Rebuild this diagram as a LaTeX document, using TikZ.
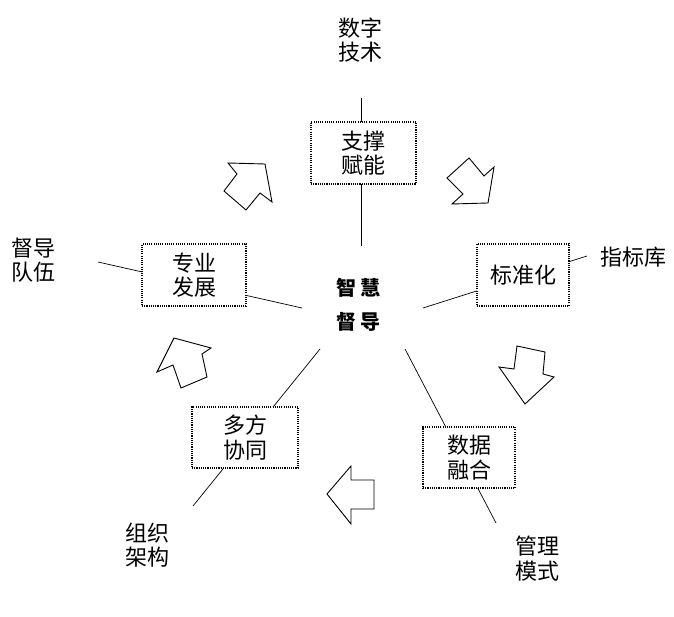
\documentclass[tikz,border=0pt]{standalone}
\usepackage{fontspec}
\newfontfamily\cjk{Noto Sans CJK SC}
\begin{document}
\begin{tikzpicture}[x=1pt,y=-1pt,
  box/.style={draw, line width=1.1pt, dash pattern=on 1.1pt off 1.1pt, fill=white,
    inner sep=0pt, align=center, font=\cjk\fontsize{22}{24.5}\selectfont},
  lbl/.style={inner sep=0pt, align=center, font=\cjk\fontsize{22}{24.5}\selectfont},
  hub/.style={inner sep=0pt, font=\cjk\bfseries\fontsize{20}{20}\selectfont},
  ray/.style={line width=0.7pt},
  blk/.style={line width=0.9pt, line join=miter, fill=white}]
\useasboundingbox (0,0) rectangle (674,617);

% rays (free ends as named coordinates)
\coordinate (r1a) at (361,98);  \coordinate (r1b) at (361,246);
\coordinate (r2a) at (98,262);  \coordinate (r2b) at (302,308);
\coordinate (r3a) at (423,308); \coordinate (r3b) at (587,256);
\coordinate (r4a) at (320,349); \coordinate (r4b) at (193,506);
\coordinate (r5a) at (405,349); \coordinate (r5b) at (496,523);
\draw[ray] (r1a) -- (r1b);
\draw[ray] (r2a) -- (r2b);
\draw[ray] (r3a) -- (r3b);
\draw[ray] (r4a) -- (r4b);
\draw[ray] (r5a) -- (r5b);

% boxes
\node[box, minimum width=105pt, minimum height=62pt] (zc) at (363.5,153) {支撑\\赋能};
\node[box, minimum width=104pt, minimum height=62pt] (zy) at (194,275) {专业\\发展};
\node[box, minimum width=92pt, minimum height=62pt] (bz) at (523,275) {标准化};
\node[box, minimum width=106pt, minimum height=61pt] (df) at (245,437.5) {多方\\协同};
\node[box, minimum width=92pt, minimum height=61pt] (sj) at (469,457.5) {数据\\融合};

% centre
\node[hub] (h1) at (358,288) {智\hspace{4pt}慧};
\node[hub] (h2) at (358,322) {督\hspace{4pt}导};

% outer labels
\node[lbl] (szjs) at (360,40) {数字\\技术};
\node[lbl] (ddwd) at (33,260) {督导\\队伍};
\node[lbl] (zbk) at (633,257) {指标库};
\node[lbl] (zzjg) at (147,545) {组织\\架构};
\node[lbl] (glms) at (537,558.5) {管理\\模式};

% block arrows
\draw[blk] (228,163) -- (265,164) -- (272,202) -- (260,193) -- (246,210) -- (224,191) -- (237,174) -- cycle;
\draw[blk] (469,158) -- (447,178) -- (463,194) -- (452,204) -- (488,203) -- (494,167) -- (484,176) -- cycle;
\draw[blk] (517,346) -- (545,352) -- (543,374) -- (554,377) -- (525,404) -- (499,367) -- (514,369) -- cycle;
\draw[blk] (327,494) -- (351,466) -- (351,480) -- (374,480) -- (374,509) -- (351,509) -- (351,524) -- cycle;
\draw[blk] (174,338) -- (211,348) -- (202,354) -- (207,377) -- (181,388) -- (173,365) -- (157,372) -- cycle;
\end{tikzpicture}
\end{document}
